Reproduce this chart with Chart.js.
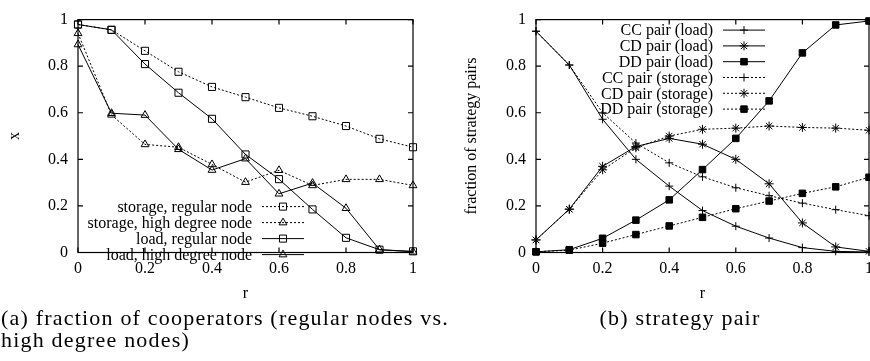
<!DOCTYPE html>
<html>
<head>
<meta charset="utf-8">
<script src="https://cdn.jsdelivr.net/npm/chart.js@4.4.0/dist/chart.umd.min.js"></script>
<style>
  html, body { margin:0; padding:0; background:#fff; width:870px; height:361px; overflow:hidden; }
  body { position:relative; }
  .box { position:absolute; top:0; height:310px; }
  #boxA { left:0; width:435px; }
  #boxB { left:435px; width:445px; }
  .cap { position:absolute; font-family:"Liberation Serif", serif; font-size:22px; color:#000; white-space:nowrap; line-height:22px; letter-spacing:1.2px; }
  #capA { left:1px; top:307px; }
  #capB { left:480px; width:400px; top:307px; text-align:center; }
</style>
</head>
<body>
<div class="box" id="boxA"><canvas id="chartA"></canvas></div>
<div class="box" id="boxB"><canvas id="chartB"></canvas></div>
<div class="cap" id="capA">(a) fraction of cooperators (regular nodes vs.<br>high degree nodes)</div>
<div class="cap" id="capB">(b) strategy pair</div>
<script>
const rValues = [0, 0.1, 0.2, 0.3, 0.4, 0.5, 0.6, 0.7, 0.8, 0.9, 1];
const tickValues = [0, 0.2, 0.4, 0.6, 0.8, 1];

// (a) fraction of cooperators
const storageRegular = [0.979, 0.956, 0.866, 0.776, 0.711, 0.667, 0.621, 0.585, 0.543, 0.488, 0.452];
const storageHigh = [0.941, 0.591, 0.464, 0.452, 0.378, 0.302, 0.353, 0.288, 0.314, 0.314, 0.288];
const loadRegular = [0.979, 0.956, 0.809, 0.686, 0.574, 0.421, 0.315, 0.185, 0.063, 0.012, 0.005];
const loadHigh = [0.893, 0.598, 0.590, 0.443, 0.354, 0.403, 0.252, 0.298, 0.190, 0.012, 0.003];

// (b) strategy pairs
const ccLoad = [0.95, 0.805, 0.572, 0.40, 0.285, 0.18, 0.113, 0.062, 0.021, 0.005, 0.002];
const cdLoad = [0.054, 0.186, 0.37, 0.455, 0.49, 0.465, 0.40, 0.295, 0.127, 0.024, 0.005];
const ddLoad = [0.003, 0.012, 0.061, 0.139, 0.226, 0.356, 0.49, 0.651, 0.857, 0.977, 0.994];
const ccStorage = [0.95, 0.805, 0.60, 0.47, 0.385, 0.325, 0.278, 0.244, 0.212, 0.184, 0.158];
const cdStorage = [0.054, 0.186, 0.355, 0.45, 0.50, 0.529, 0.534, 0.543, 0.537, 0.534, 0.525];
const ddStorage = [0.003, 0.01, 0.04, 0.077, 0.114, 0.151, 0.188, 0.221, 0.254, 0.282, 0.323];

const FONT = '"Liberation Serif", "Times New Roman", serif';
const DOTS = [2, 2];
const H = 310;

function pts(arr) {
  return arr.map((v, i) => ({ x: rValues[i], y: v }));
}

function series(label, arr, style, radius, dotted, filled) {
  return {
    label,
    data: pts(arr),
    borderColor: "#000",
    borderWidth: 1,
    borderDash: dotted ? DOTS : [],
    pointStyle: style,
    pointRadius: radius,
    pointBorderColor: "#000",
    pointBorderWidth: 1,
    pointBackgroundColor: filled ? "#000" : "rgba(0,0,0,0)",
    tension: 0,
    clip: false,
  };
}

// box + inward ticks on all four sides, gnuplot style
const framePlugin = {
  id: "frame",
  afterDatasetsDraw(chart) {
    const { ctx, chartArea: a, scales } = chart;
    ctx.save();
    ctx.strokeStyle = "#000";
    ctx.lineWidth = 1.2;
    ctx.setLineDash([]);
    ctx.strokeRect(a.left, a.top, a.right - a.left, a.bottom - a.top);
    ctx.beginPath();
    scales.x.ticks.forEach((t) => {
      const px = scales.x.getPixelForValue(t.value);
      ctx.moveTo(px, a.bottom); ctx.lineTo(px, a.bottom - 5);
      ctx.moveTo(px, a.top); ctx.lineTo(px, a.top + 5);
    });
    scales.y.ticks.forEach((t) => {
      const py = scales.y.getPixelForValue(t.value);
      ctx.moveTo(a.left, py); ctx.lineTo(a.left + 5, py);
      ctx.moveTo(a.right, py); ctx.lineTo(a.right - 5, py);
    });
    ctx.stroke();
    ctx.restore();
  },
};

// key inside the plot: text right-aligned, then sample line with marker
const keyPlugin = {
  id: "key",
  afterDatasetsDraw(chart, args, opts) {
    const { ctx, chartArea: a } = chart;
    ctx.save();
    ctx.font = "16px " + FONT;
    ctx.textAlign = "right";
    ctx.textBaseline = "middle";
    chart.data.datasets.forEach((ds, i) => {
      const yy = a.top + opts.top + i * opts.gap;
      ctx.fillStyle = "#000";
      ctx.fillText(ds.label, a.left + opts.textX, yy + 1);
      ctx.beginPath();
      ctx.setLineDash(ds.borderDash);
      ctx.strokeStyle = ds.borderColor;
      ctx.lineWidth = ds.borderWidth;
      ctx.moveTo(a.left + opts.lineX0, yy);
      ctx.lineTo(a.left + opts.lineX1, yy);
      ctx.stroke();
      ctx.setLineDash([]);
      ctx.fillStyle = ds.pointBackgroundColor;
      ctx.strokeStyle = ds.pointBorderColor;
      ctx.lineWidth = ds.pointBorderWidth;
      Chart.helpers.drawPoint(ctx, {
        pointStyle: ds.pointStyle,
        radius: ds.pointRadius,
        rotation: 0,
        borderWidth: ds.pointBorderWidth,
      }, a.left + (opts.lineX0 + opts.lineX1) / 2, yy);
    });
    ctx.restore();
  },
};

const tickLabel = (v) => String(Number(Number(v).toFixed(1)));

function makeOptions(cfg) {
  return {
    responsive: true,
    maintainAspectRatio: false,
    animation: false,
    layout: { padding: { left: 0, top: 9.5, right: cfg.padRight, bottom: 0 } },
    plugins: {
      legend: { display: false },
      tooltip: { enabled: false },
      key: cfg.key,
    },
    scales: {
      x: {
        type: "linear",
        min: 0,
        max: 1,
        afterBuildTicks: (s) => { s.ticks = tickValues.map((v) => ({ value: v })); },
        ticks: { color: "#000", padding: 7, maxRotation: 0, font: { family: FONT, size: 16 }, callback: tickLabel },
        grid: { display: false, drawTicks: false },
        border: { display: false },
        title: { display: true, text: "r", color: "#000", font: { family: FONT, size: 16 }, padding: { top: 0, bottom: 7 } },
        afterFit: (s) => { s.height = H - 252.5; },
      },
      y: {
        type: "linear",
        min: 0,
        max: 1,
        afterBuildTicks: (s) => { s.ticks = tickValues.map((v) => ({ value: v })); },
        ticks: { color: "#000", padding: 10, font: { family: FONT, size: 16 }, callback: tickLabel },
        grid: { display: false, drawTicks: false },
        border: { display: false },
        title: { display: true, text: cfg.yTitle, color: "#000", font: { family: FONT, size: 16 }, padding: { top: cfg.yTitlePad, bottom: 0 } },
        afterFit: (s) => { s.width = cfg.axisLeft; },
      },
    },
  };
}

new Chart(document.getElementById("chartA"), {
  type: "line",
  data: {
    datasets: [
      series("storage, regular node", storageRegular, "rect", 5, true, false),
      series("storage, high degree node", storageHigh, "triangle", 4.5, true, false),
      series("load, regular node", loadRegular, "rect", 5, false, false),
      series("load, high degree node", loadHigh, "triangle", 4.5, false, false),
    ],
  },
  options: makeOptions({
    padRight: 22,
    axisLeft: 78,
    yTitle: "x",
    yTitlePad: 5,
    key: { textX: 174, lineX0: 184, lineX1: 226, top: 187, gap: 16 },
  }),
  plugins: [framePlugin, keyPlugin],
});

new Chart(document.getElementById("chartB"), {
  type: "line",
  data: {
    datasets: [
      series("CC pair (load)", ccLoad, "cross", 4, false, false),
      series("CD pair (load)", cdLoad, "star", 4.5, false, false),
      series("DD pair (load)", ddLoad, "rect", 4.6, false, true),
      series("CC pair (storage)", ccStorage, "cross", 4, true, false),
      series("CD pair (storage)", cdStorage, "star", 4.5, true, false),
      series("DD pair (storage)", ddStorage, "rect", 4.6, true, true),
    ],
  },
  options: makeOptions({
    padRight: 11,
    axisLeft: 101,
    yTitle: "fraction of strategy pairs",
    yTitlePad: 27,
    key: { textX: 177, lineX0: 187, lineX1: 229, top: 10.5, gap: 15.8 },
  }),
  plugins: [framePlugin, keyPlugin],
});
</script>
</body>
</html>
